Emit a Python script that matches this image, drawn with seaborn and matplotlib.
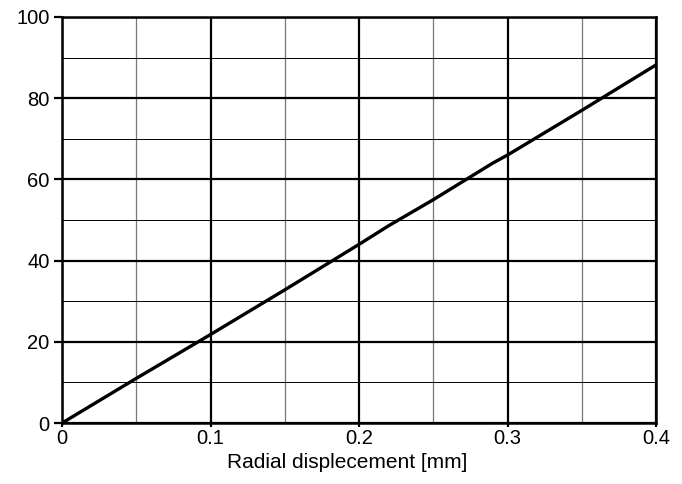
import numpy as np
import pandas as pd
import matplotlib
matplotlib.use('Agg')
import matplotlib.pyplot as plt
import seaborn as sns
from matplotlib.ticker import MultipleLocator

# values
disp_mm = [0.0, 0.05, 0.1, 0.15, 0.2, 0.22, 0.25, 0.29, 0.3, 0.35, 0.4]
force = [0.0, 11.0, 21.8, 32.8, 44.0, 48.6, 55.0, 64.0, 66.0, 77.0, 88.2]
x_ticks = [0, 0.1, 0.2, 0.3, 0.4]
x_labels = ['0', '0.1', '0.2', '0.3', '0.4']

df = pd.DataFrame({'disp': disp_mm, 'force': force})

sns.set_style('white')
plt.rcParams['font.family'] = ['Liberation Sans', 'DejaVu Sans']
plt.rcParams['font.size'] = 14.5
plt.rcParams['text.color'] = 'black'

fig = plt.figure(figsize=(6.82, 4.84), dpi=100)
ax = fig.add_axes([0.091, 0.126, 0.871, 0.839])

sns.lineplot(ax=ax, data=df, x='disp', y='force', color='black', linewidth=2.4)

ax.set_xlim(0, 0.4); ax.set_ylim(0, 100)
ax.set_xticks(x_ticks)
ax.set_xticklabels(x_labels)
ax.xaxis.set_minor_locator(MultipleLocator(0.05))
ax.yaxis.set_major_locator(MultipleLocator(20)); ax.yaxis.set_minor_locator(MultipleLocator(10))
ax.grid(which='major', color='black', linewidth=1.6)
ax.grid(which='minor', axis='x', color='#777777', linewidth=0.9)
ax.grid(which='minor', axis='y', color='black', linewidth=0.7)
ax.set_axisbelow(True)
for s in ax.spines.values():
    s.set_color('black'); s.set_linewidth(1.8)
ax.tick_params(axis='y', which='major', direction='out', length=6, width=1.6, left=True, labelsize=14.5, colors='black', pad=3)
ax.tick_params(axis='x', which='major', direction='out', length=3, width=1.6, bottom=True, labelsize=14.5, colors='black', pad=1)
ax.tick_params(which='minor', length=0)
ax.set_xlabel('Radial displecement [mm]', fontsize=15, color='black', labelpad=5)
ax.xaxis.set_label_coords(0.48, -0.075)
ax.xaxis.label.set_va('top')
ax.set_ylabel('')

fig.savefig('out.png', dpi=100)
